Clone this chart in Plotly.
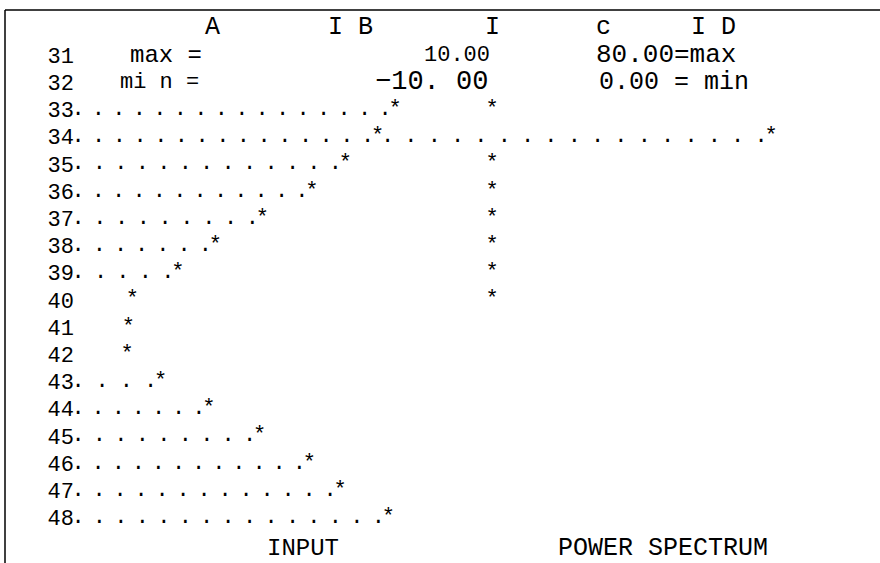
import numpy as np
import plotly.graph_objects as go

# spreadsheet rows and values
label_rows = list(range(31, 49))
input_rows = list(range(33, 49))
input_values = [10.0, 8.7, 6.3, 3.8, 0.1, -3.4, -6.2, -9.6,
                -9.9, -10.0, -7.5, -3.9, -0.1, 3.6, 5.9, 9.5]
power_rows = list(range(33, 41))
power_values = [0.0, 80.0, 0.0, 0.0, 0.0, 0.0, 0.0, 0.0]
input_max, input_min = 10.0, -10.0
power_max, power_min = 80.0, 0.0
col_headers = ["A", "I B", "I", "c", "I D"]

W, H = 880, 563
FONT = "Liberation Mono, Courier New, monospace"

# pixel layout of the two plotting columns
IN_LO, IN_HI = 127, 395      # px of input min / max
PS_LO, PS_HI = 492, 771      # px of power min / max
ROW0_PX, ROW_STEP = 55, 27.2  # px of row 31, px per row

in_scale = (IN_HI - IN_LO) / (input_max - input_min)
ps_scale = (PS_HI - PS_LO) / (power_max - power_min)


def in_px(v):
    return IN_LO + (v - input_min) * in_scale


def in_val(px):
    return input_min + (px - IN_LO) / in_scale


def ps_val(px):
    return power_min + (px - PS_LO) / ps_scale


# leader dots from the row label up to each star
dot_x, dot_y = [], []
start = in_val(78)
for r, v in zip(input_rows, input_values):
    end = v - 10 / in_scale
    if v < -9 or end <= start:
        continue
    n = int(round((end - start) * in_scale / 21)) + 1
    for x in np.linspace(start, end, max(n, 2)):
        dot_x.append(x)
        dot_y.append(r)

ps_dot_x, ps_dot_y = [], []
for r, p in zip(power_rows, power_values):
    if p <= power_min:
        continue
    v = input_values[input_rows.index(r)]
    s = ps_val(in_px(v) + 10)
    e = p - 10 / ps_scale
    n = int(round((e - s) * ps_scale / 23.3)) + 1
    for x in np.linspace(s, e, n):
        ps_dot_x.append(x)
        ps_dot_y.append(r)

fig = go.Figure()
fig.add_trace(go.Scatter(x=dot_x, y=dot_y, mode="text", text=["."] * len(dot_x),
                         textfont=dict(family=FONT, size=22, color="black"),
                         xaxis="x", yaxis="y", hoverinfo="skip"))
fig.add_trace(go.Scatter(x=input_values, y=input_rows, mode="text",
                         text=["*"] * len(input_values),
                         textfont=dict(family=FONT, size=22, color="black"),
                         xaxis="x", yaxis="y", name="INPUT"))
fig.add_trace(go.Scatter(x=ps_dot_x, y=ps_dot_y, mode="text", text=["."] * len(ps_dot_x),
                         textfont=dict(family=FONT, size=22, color="black"),
                         xaxis="x2", yaxis="y", hoverinfo="skip"))
fig.add_trace(go.Scatter(x=power_values, y=power_rows, mode="text",
                         text=["*"] * len(power_values),
                         textfont=dict(family=FONT, size=22, color="black"),
                         xaxis="x2", yaxis="y", name="POWER SPECTRUM"))

y_top = 31 - ROW0_PX / ROW_STEP
y_bot = 31 + (H - ROW0_PX) / ROW_STEP


def ann(text, px, row, size=22, anchor="center"):
    fig.add_annotation(text=text, x=px / W, xref="paper", y=row, yref="y",
                       xanchor=anchor, yanchor="middle", showarrow=False,
                       font=dict(family=FONT, size=size, color="black"))


ann(col_headers[0], 212, 30.0, 25)
ann(col_headers[1], 350, 30.0, 25)
ann(col_headers[2], 492, 30.0, 25)
ann(col_headers[3], 603, 30.0, 25)
ann(col_headers[4], 713, 30.0, 25)

ann("max =", 128, 31, 24, "left")
ann("mi n =", 118, 32, 22, "left")
ann("%.2f" % input_max, 492, 31, 22, "right")
ann("\u221210. 00" if input_min == -10 else "%.2f" % input_min, 490, 32, 27, "right")
ann("%.2f=max" % power_max, 594, 31, 26, "left")
ann("%.2f = min" % power_min, 597, 32, 25, "left")
ann("INPUT", 303, 49.15, 24)
ann("POWER SPECTRUM", 663, 49.15, 25)

fig.update_layout(
    width=W, height=H,
    margin=dict(l=0, r=0, t=0, b=0),
    paper_bgcolor="white", plot_bgcolor="white",
    showlegend=False,
    xaxis=dict(range=[in_val(0), in_val(W)], visible=False, domain=[0, 1]),
    xaxis2=dict(range=[ps_val(0), ps_val(W)], visible=False, overlaying="x"),
    yaxis=dict(range=[y_bot, y_top], anchor="free", position=74 / W,
               tickvals=label_rows, ticktext=[str(r) for r in label_rows],
               tickfont=dict(family=FONT, size=22, color="black"),
               showgrid=False, zeroline=False, showline=False, ticks=""),
    shapes=[
        dict(type="line", xref="paper", yref="paper", x0=5 / W, x1=1,
             y0=1 - 10 / H, y1=1 - 10 / H, line=dict(color="black", width=1.5)),
        dict(type="line", xref="paper", yref="paper", x0=5 / W, x1=5 / W,
             y0=0, y1=1 - 10 / H, line=dict(color="black", width=1.5)),
    ],
)

# drop the browser's default 8px body margin so the figure sits at the corner
fig.write_html("out.html", config={"displayModeBar": False},
               post_script="document.body.style.margin = '0';")
